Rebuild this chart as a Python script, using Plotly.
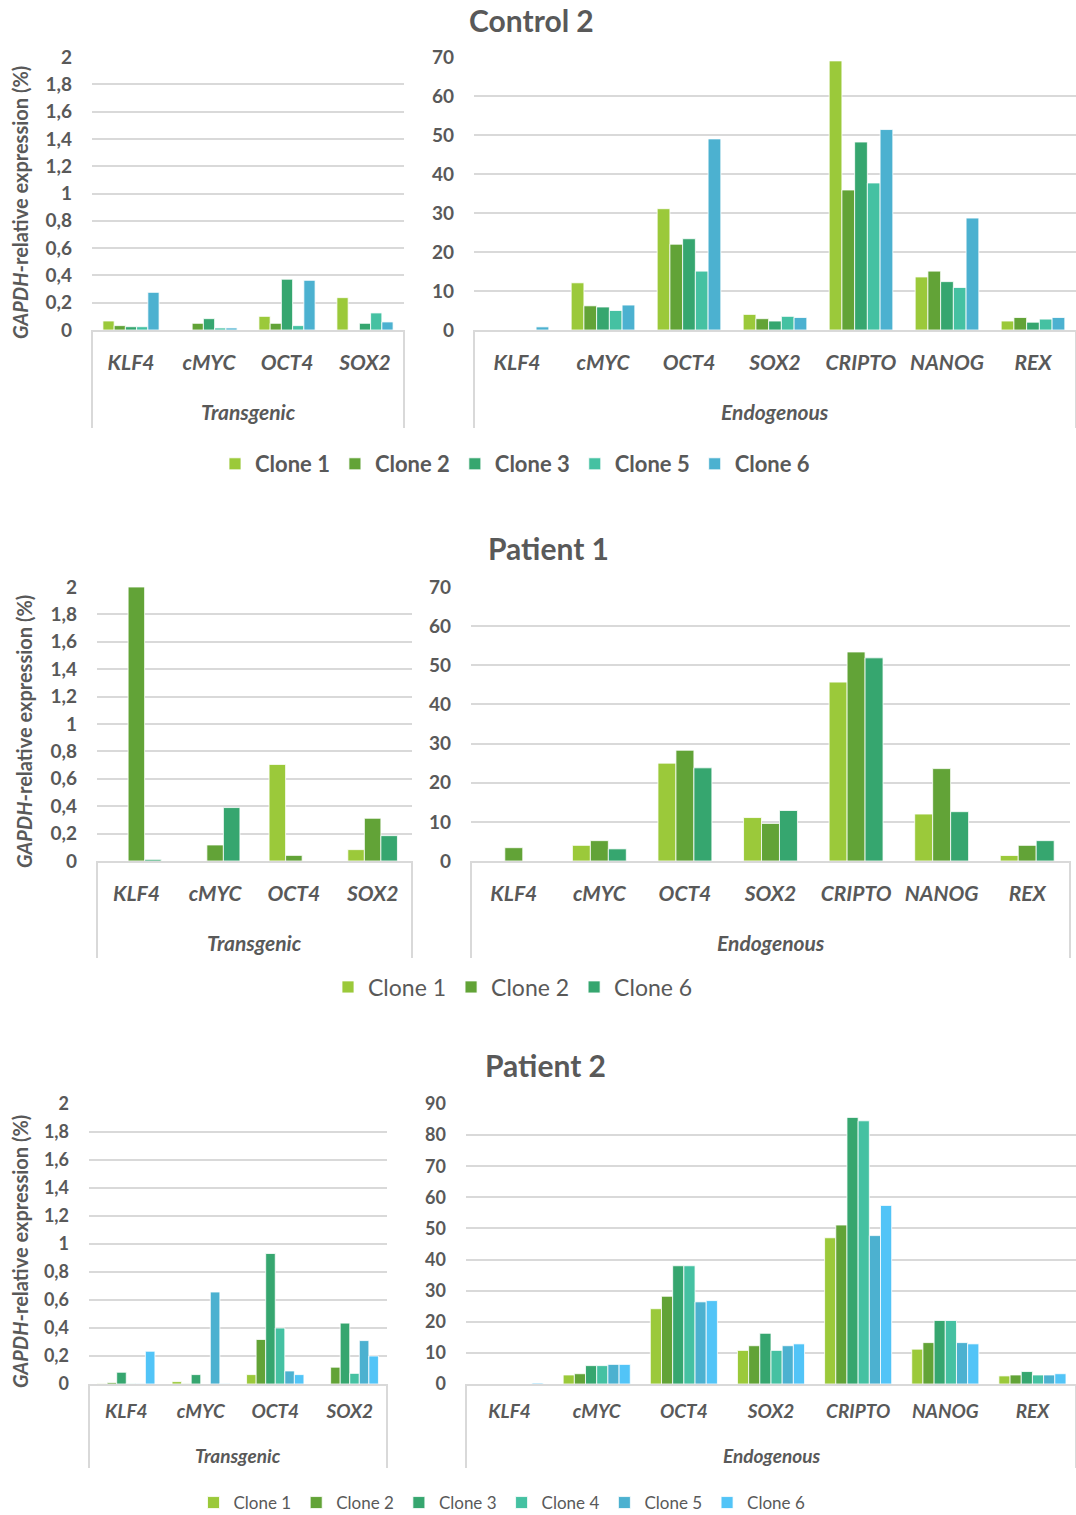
import plotly.graph_objects as go

W, H = 1076, 1515

# ---------------------------------------------------------------- data
transgenic_genes = ["KLF4", "cMYC", "OCT4", "SOX2"]
endogenous_genes = ["KLF4", "cMYC", "OCT4", "SOX2", "CRIPTO", "NANOG", "REX"]

# Control 2
control2_clones = ["Clone 1", "Clone 2", "Clone 3", "Clone 5", "Clone 6"]
control2_colors = ["#9BC93A", "#62A337", "#36A66F", "#45C1A2", "#4CB1D0"]
control2_transgenic = [
    [0.066, None, 0.10, 0.237],
    [0.032, 0.049, 0.049, None],
    [0.024, 0.083, 0.372, 0.049],
    [0.024, 0.015, 0.032, 0.125],
    [0.276, 0.015, 0.364, 0.059],
]
control2_endogenous = [
    [None, 12.1, 31.1, 4.0, 69.0, 13.6, 2.3],
    [None, 6.2, 22.0, 2.9, 35.9, 15.1, 3.2],
    [None, 5.9, 23.4, 2.3, 48.2, 12.4, 2.0],
    [None, 5.0, 15.1, 3.5, 37.7, 10.9, 2.8],
    [0.8, 6.4, 49.0, 3.2, 51.4, 28.7, 3.2],
]

# Patient 1
patient1_clones = ["Clone 1", "Clone 2", "Clone 6"]
patient1_colors = ["#9BC93A", "#62A337", "#36A66F"]
patient1_transgenic = [
    [None, None, 0.705, 0.083],
    [2.0, 0.117, 0.041, 0.312],
    [0.012, 0.39, None, 0.185],
]
patient1_endogenous = [
    [None, 4.0, 25.0, 11.1, 45.7, 12.0, 1.4],
    [3.4, 5.2, 28.3, 9.6, 53.4, 23.6, 4.0],
    [None, 3.1, 23.8, 12.9, 51.9, 12.6, 5.2],
]

# Patient 2
patient2_clones = ["Clone 1", "Clone 2", "Clone 3", "Clone 4", "Clone 5", "Clone 6"]
patient2_colors = ["#9BC93A", "#62A337", "#36A66F", "#45C1A2", "#4CB1D0", "#52C4F7"]
patient2_transgenic = [
    [0.003, 0.017, 0.067, None],
    [0.010, 0.003, 0.318, 0.120],
    [0.084, 0.067, 0.932, 0.435],
    [0.003, None, 0.400, 0.076],
    [0.003, 0.657, 0.093, 0.310],
    [0.234, 0.003, 0.067, 0.200],
]
patient2_endogenous = [
    [None, 2.9, 24.2, 10.8, 47.0, 11.2, 2.6],
    [None, 3.3, 28.2, 12.3, 51.1, 13.3, 2.9],
    [None, 5.9, 38.0, 16.3, 85.7, 20.4, 4.0],
    [None, 5.9, 38.0, 10.8, 84.6, 20.4, 2.9],
    [None, 6.3, 26.4, 12.3, 47.7, 13.3, 2.9],
    [0.3, 6.3, 26.8, 12.9, 57.4, 12.9, 3.3],
]

# ---------------------------------------------------------------- layout helpers
TEXT = "#595959"
GRID = "#D9D9D9"
FONT = "Lato"


def px_x(x):
    return x / W


def px_y(y):
    return 1 - y / H


panels = [
    dict(title="Control 2", title_xy=(531, 20), clones=control2_clones, colors=control2_colors,
         tg=control2_transgenic, en=control2_endogenous,
         left=(92, 404), right=(474, 1076), top=57, zero=330, bottom=428,
         group_y=411, legend_xy=(515, 464), frac=(0.72, 0.74), en_max=70,
         ylabel_xy=(20, 203), tick_size=19, cat_size=21, leg_size=22, leg_weight="bold", cat_off=13),
    dict(title="Patient 1", title_xy=(548, 548), clones=patient1_clones, colors=patient1_colors,
         tg=patient1_transgenic, en=patient1_endogenous,
         left=(97, 412), right=(471, 1070), top=587, zero=861, bottom=958,
         group_y=943, legend_xy=(513, 987), frac=(0.63, 0.63), en_max=70,
         ylabel_xy=(24, 732), tick_size=19, cat_size=21, leg_size=23, leg_weight="normal", cat_off=13),
    dict(title="Patient 2", title_xy=(545, 1065), clones=patient2_clones, colors=patient2_colors,
         tg=patient2_transgenic, en=patient2_endogenous,
         left=(89, 387), right=(466, 1076), top=1104, zero=1384, bottom=1468,
         group_y=1455, legend_xy=(502, 1503), frac=(0.77, 0.77), en_max=90,
         ylabel_xy=(20, 1252), tick_size=18, cat_size=19, leg_size=17, leg_weight="normal", cat_off=9),
]

fig = go.Figure()
annotations = []
shapes = []
axis_layout = {}
legend_layout = {}

ax = 0
for p_i, p in enumerate(panels):
    n = len(p["clones"])
    legend_name = "legend" if p_i == 0 else f"legend{p_i + 1}"
    for side, (genes, rows, dom, frac, ymax, dtick, group_label) in enumerate([
        (transgenic_genes, p["tg"], p["left"], p["frac"][0], 2, 0.2, "Transgenic"),
        (endogenous_genes, p["en"], p["right"], p["frac"][1], p["en_max"], 10, "Endogenous"),
    ]):
        ax += 1
        xa = "x" if ax == 1 else f"x{ax}"
        ya = "y" if ax == 1 else f"y{ax}"
        bar_w = frac / n
        for i, (clone, color, vals) in enumerate(zip(p["clones"], p["colors"], rows)):
            fig.add_trace(go.Bar(
                x=genes, y=vals, name=clone, xaxis=xa, yaxis=ya,
                width=bar_w, offset=-frac / 2 + i * bar_w,
                marker=dict(color=color, line=dict(color="white", width=0.8)),
                showlegend=(side == 0), legend=legend_name,
            ))
        axis_layout["xaxis" if ax == 1 else f"xaxis{ax}"] = dict(
            domain=[px_x(dom[0]), px_x(dom[1])], anchor=ya, type="category",
            showline=True, linecolor=GRID, linewidth=2, showgrid=False, automargin=False,
            ticks="", ticklabelstandoff=p["cat_off"],
            tickfont=dict(family=FONT, size=p["cat_size"], color=TEXT, weight="bold", style="italic"),
            range=[-0.5, len(genes) - 0.5], fixedrange=True,
        )
        axis_layout["yaxis" if ax == 1 else f"yaxis{ax}"] = dict(
            domain=[px_y(p["zero"]), px_y(p["top"])], anchor=xa, automargin=False,
            range=[0, ymax], dtick=dtick, tick0=0, showgrid=True, gridcolor=GRID, gridwidth=2,
            zeroline=False, showline=False, ticks="", ticklabelstandoff=19,
            tickfont=dict(family=FONT, size=p["tick_size"], color=TEXT, weight="bold"),
            fixedrange=True,
        )
        # bracket lines framing the category group
        for xe in dom:
            shapes.append(dict(type="line", xref="paper", yref="paper",
                               x0=px_x(xe), x1=px_x(xe), y0=px_y(p["zero"]), y1=px_y(p["bottom"]),
                               line=dict(color=GRID, width=2)))
        annotations.append(dict(
            text=group_label, xref="paper", yref="paper",
            x=px_x((dom[0] + dom[1]) / 2), y=px_y(p["group_y"]),
            xanchor="center", yanchor="middle", showarrow=False,
            font=dict(family=FONT, size=p["cat_size"], color=TEXT, weight="bold", style="italic"),
        ))

    # panel title
    annotations.append(dict(
        text=f"<b>{p['title']}</b>", xref="paper", yref="paper",
        x=px_x(p["title_xy"][0]), y=px_y(p["title_xy"][1]),
        xanchor="center", yanchor="middle", showarrow=False,
        font=dict(family=FONT, size=30, color=TEXT),
    ))
    # y-axis title
    annotations.append(dict(
        text="<b><i>GAPDH</i>-relative expression (%)</b>", xref="paper", yref="paper",
        x=px_x(p["ylabel_xy"][0]), y=px_y(p["ylabel_xy"][1]),
        xanchor="center", yanchor="middle", showarrow=False, textangle=-90,
        font=dict(family=FONT, size=20, color=TEXT),
    ))
    legend_layout[legend_name] = dict(
        orientation="h", x=px_x(p["legend_xy"][0]), y=px_y(p["legend_xy"][1]),
        xanchor="center", yanchor="middle", bgcolor="rgba(0,0,0,0)",
        font=dict(family=FONT, size=p["leg_size"], color=TEXT, weight=p["leg_weight"]),
        itemclick=False, itemdoubleclick=False, tracegroupgap=0,
    )

fig.update_layout(
    width=W, height=H, margin=dict(l=0, r=0, t=0, b=0, autoexpand=False),
    paper_bgcolor="white", plot_bgcolor="white",
    barmode="overlay", separators=", ",
    annotations=annotations, shapes=shapes,
    **axis_layout, **legend_layout,
)

fig.write_html("out.html")
